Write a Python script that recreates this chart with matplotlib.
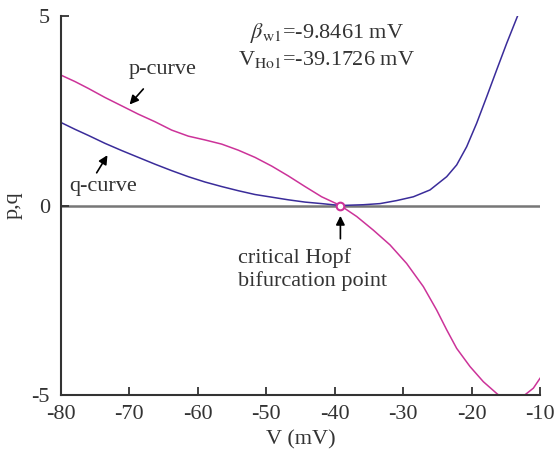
import matplotlib
matplotlib.use("Agg")
import matplotlib.pyplot as plt

plt.rcParams['font.family'] = ['Liberation Serif', 'DejaVu Serif']
plt.rcParams['axes.unicode_minus'] = False
plt.rcParams['mathtext.fontset'] = 'stix'

# p-curve
v_p = [-80.0, -77.95, -76.01, -73.57, -71.13, -68.70, -66.26, -63.83, -61.39, -58.96,
       -56.52, -54.09, -51.65, -49.21, -46.78, -44.34, -41.91, -39.17, -36.79, -34.36,
       -31.92, -29.49, -27.05, -25.10, -23.64, -22.18, -20.23, -18.28, -16.33, -15.85,
       -14.1, -12.44, -10.97, -10.0]
p = [3.44, 3.27, 3.09, 2.85, 2.63, 2.41, 2.21, 1.99, 1.83, 1.73,
     1.62, 1.46, 1.27, 1.04, 0.78, 0.50, 0.23, 0.0, -0.29, -0.65,
     -1.04, -1.53, -2.14, -2.76, -3.28, -3.77, -4.25, -4.65, -4.96, -5.03,
     -5.15, -5.03, -4.82, -4.56]

# q-curve
v_q = [-80.0, -77.95, -76.01, -73.57, -71.13, -68.70, -66.26, -63.83, -61.39, -58.96,
       -56.52, -54.09, -51.65, -49.21, -46.78, -44.34, -41.91, -39.17, -35.82, -33.38,
       -30.95, -28.51, -26.08, -23.64, -22.18, -20.72, -19.26, -17.79, -16.33, -14.87,
       -13.17]
q = [2.19, 2.01, 1.85, 1.64, 1.45, 1.27, 1.09, 0.92, 0.76, 0.62,
     0.50, 0.39, 0.29, 0.22, 0.15, 0.09, 0.05, 0.0, 0.02, 0.05,
     0.13, 0.23, 0.41, 0.76, 1.07, 1.55, 2.17, 2.87, 3.58, 4.28,
     5.05]

hopf_v, hopf_y = -39.17, 0.0
xticks = [-80, -70, -60, -50, -40, -30, -20, -10]
yticks = [-5, 0, 5]

cor_txt = '#333333'
fs = 16
fig = plt.figure(figsize=(5.55, 4.55), dpi=100)
ax = fig.add_axes([0.1099, 0.1319, 0.8631, 0.8329])

ax.axhline(0, color='#777777', lw=1.8, zorder=1)
ax.plot(v_p, p, color='#cc3399', lw=1.1, zorder=2)
ax.plot(v_q, q, color='#3a2c9a', lw=1.1, zorder=2)
ax.plot([hopf_v], [hopf_y], 'o', ms=5.5, mfc='white', mec='#cc3399', mew=1.5, zorder=3)

ax.set_xlim(-80, -10)
ax.set_ylim(-5, 5)
ax.set_xticks(xticks)
ax.set_yticks(yticks)
ax.tick_params(direction='in', length=6, width=1.3, color='#333333',
               labelsize=fs, labelcolor=cor_txt)
ax.tick_params(axis='x', pad=7)
ax.tick_params(axis='y', pad=8)
for s in ['top', 'right']:
    ax.spines[s].set_visible(False)
for s in ['left', 'bottom']:
    ax.spines[s].set_linewidth(1.5)
    ax.spines[s].set_color('#333333')

ax.set_xlabel('V (mV)', fontsize=fs, color=cor_txt, labelpad=5)
ax.set_ylabel('p,q', fontsize=fs, color=cor_txt, labelpad=6)

# anotações
seta = dict(arrowstyle='-|>', color='black', lw=1.2, mutation_scale=13)
ax.annotate('', xy=(-70.25, 2.61), xytext=(-67.7, 3.13), arrowprops=seta)
ax.text(-65.2, 3.6, 'p-curve', fontsize=fs, color=cor_txt, ha='center', va='center')
ax.annotate('', xy=(-73.0, 1.39), xytext=(-75.0, 0.80), arrowprops=seta)
ax.text(-73.9, 0.50, 'q-curve', fontsize=fs, color=cor_txt, ha='center', va='center')

ax.annotate('', xy=(hopf_v, -0.2), xytext=(hopf_v, -0.95), arrowprops=seta)
ax.text(-54.2, -1.68, 'critical Hopf\nbifurcation point', fontsize=fs, color=cor_txt,
        ha='left', va='center', linespacing=1.2)

ax.text(-41.2, 4.55, r'$\beta_{\rm w1}$=-9.8461 mV', fontsize=fs, color=cor_txt,
        ha='center', va='center')
ax.text(-41.2, 3.84, r'V$_{\rm Ho1}$=-39.1726 mV', fontsize=fs, color=cor_txt,
        ha='center', va='center')

fig.savefig('out.png', dpi=100)
